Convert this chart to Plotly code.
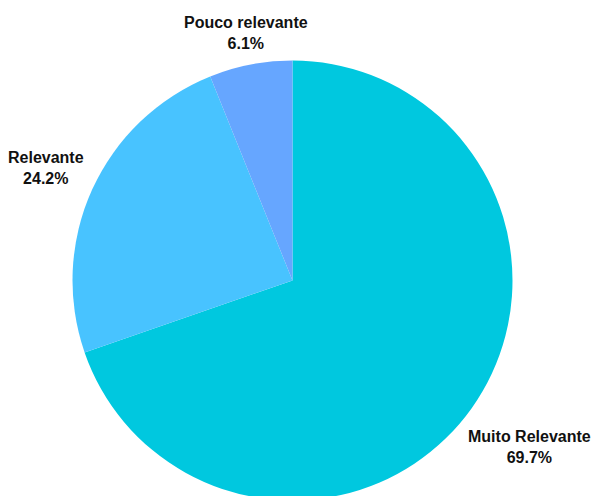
import plotly.graph_objects as go

labels = ["Muito Relevante", "Relevante", "Pouco relevante"]
values = [69.7, 24.2, 6.1]
colors = ["#00C8DF", "#48C3FF", "#66A6FF"]

# figure is a bit taller than the 496px window so the pie's bottom runs off the edge
W, H = 592, 510

# label block centres (window pixels)
label_px = [(529, 447), (46, 168), (246, 33)]

cx, cy, r = 292.5, 280.5, 220

fig = go.Figure(go.Pie(
    labels=labels,
    values=values,
    sort=False,
    direction="clockwise",
    rotation=0,
    marker=dict(colors=colors, line=dict(width=0)),
    textinfo="none",
    hoverinfo="label+percent",
    showlegend=False,
    domain=dict(x=[(cx - r) / W, (cx + r) / W],
                y=[max(0, 1 - (cy + r) / H), min(1, 1 - (cy - r) / H)]),
))

total = sum(values)
for lab, val, (px, py) in zip(labels, values, label_px):
    fig.add_annotation(
        x=px / W, y=1 - py / H, xref="paper", yref="paper",
        xanchor="center", yanchor="middle", showarrow=False,
        text=f"<b>{lab}</b><br><b>{100 * val / total:.1f}%</b>",
        font=dict(family="Liberation Sans, Arial, sans-serif", size=16, color="#111111"),
    )

fig.update_layout(
    width=W, height=H,
    margin=dict(l=0, r=0, t=0, b=0),
    paper_bgcolor="white",
    plot_bgcolor="white",
)
fig.write_html(
    "out.html",
    config={"displayModeBar": False},
    post_script="document.body.style.margin='0';document.body.style.overflow='hidden';"
                "document.documentElement.style.overflow='hidden';",
)
